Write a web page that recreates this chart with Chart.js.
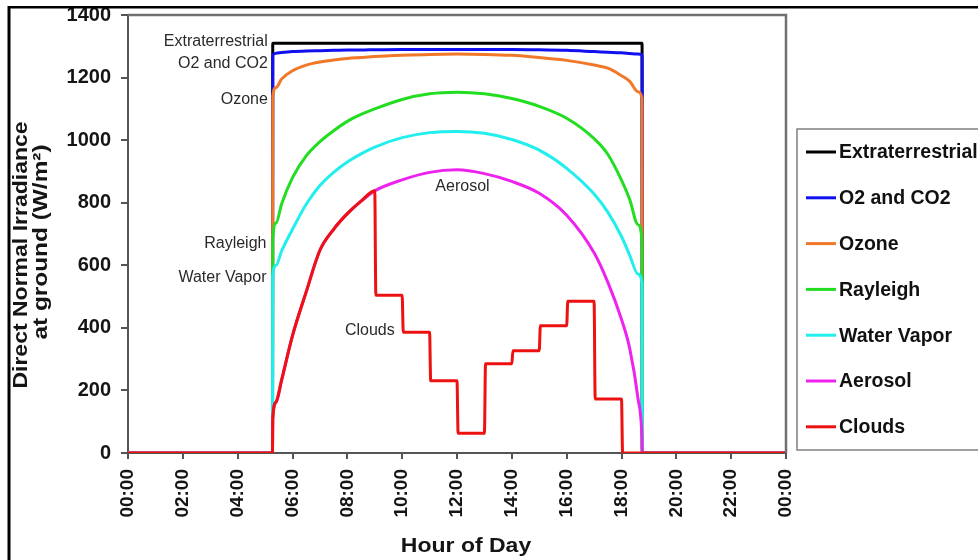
<!DOCTYPE html>
<html>
<head>
<meta charset="utf-8">
<script src="https://cdn.jsdelivr.net/npm/chart.js@4.4.1/dist/chart.umd.min.js"></script>
<style>
  html, body { margin: 0; padding: 0; background: #fff; }
  #wrap { width: 978px; height: 560px; position: relative; }
</style>
</head>
<body>
<div id="wrap"><canvas id="irradiance-chart" width="978" height="560"></canvas></div>
<script>
// Hours of the day (decimal) for the smooth curves
const hours = [0, 5.27, 5.28, 5.4, 5.6, 6, 6.5, 7, 7.5, 8, 8.5, 9, 10, 11, 12, 13, 14, 15, 16, 17, 17.5, 18, 18.3, 18.6, 18.75, 18.76, 24];

// Direct normal irradiance (W/m2) after each attenuation step
const extraterrestrial = [0, 0, 1310, 1310, 1310, 1310, 1310, 1310, 1310, 1310, 1310, 1310, 1310, 1310, 1310, 1310, 1310, 1310, 1310, 1310, 1310, 1310, 1310, 1310, 1310, 0, 0];
const o2co2 = [0, 0, 1272, 1278, 1280, 1283, 1285, 1286, 1287, 1288, 1288, 1289, 1290, 1290, 1290, 1290, 1290, 1289, 1287, 1283, 1281, 1279, 1277, 1275, 1274, 0, 0];
const ozone = [0, 0, 1140, 1168, 1195, 1222, 1240, 1250, 1256, 1261, 1264, 1267, 1271, 1274, 1275, 1274, 1271, 1264, 1255, 1240, 1230, 1206, 1188, 1155, 1135, 0, 0];
const rayleigh = [0, 0, 680, 735, 795, 880, 950, 995, 1030, 1060, 1082, 1100, 1130, 1148, 1153, 1148, 1133, 1108, 1070, 1005, 955, 872, 810, 730, 675, 0, 0];
const waterVapor = [0, 0, 565, 600, 645, 715, 795, 855, 897, 930, 956, 978, 1008, 1024, 1028, 1022, 1002, 968, 910, 828, 770, 692, 632, 572, 540, 0, 0];
const aerosol = [0, 0, 110, 163, 232, 375, 515, 648, 715, 765, 805, 838, 873, 897, 905, 893, 868, 830, 760, 640, 546, 427, 334, 175, 40, 0, 0];

// Clouds: follows the aerosol curve until 9:00, then hourly steps
const cloudHours = [0, 5.27, 5.28, 5.4, 5.6, 6, 6.5, 7, 7.5, 8, 8.5, 9, 9.04, 10, 10.04, 11, 11.04, 12, 12.04, 13, 13.04, 14, 14.04, 15, 15.04, 16, 16.04, 17, 17.04, 18, 18.04, 24];
const clouds = [0, 0, 110, 163, 232, 375, 515, 648, 715, 765, 805, 838, 504, 504, 386, 386, 231, 231, 63, 63, 285, 285, 327, 327, 407, 407, 485, 485, 173, 173, 0, 0];

const seriesNames = ['Extraterrestrial', 'O2 and CO2', 'Ozone', 'Rayleigh', 'Water Vapor', 'Aerosol', 'Clouds'];
const seriesColors = ['#000000', '#1010f0', '#f07828', '#22dd22', '#22eeee', '#ee22ee', '#ee1111'];

// Labels written next to the curves (hour, value)
const curveLabels = [
  { text: 'Extraterrestrial', h: 5.1, v: 1314, align: 'right' },
  { text: 'O2 and CO2', h: 5.1, v: 1245, align: 'right' },
  { text: 'Ozone', h: 5.1, v: 1130, align: 'right' },
  { text: 'Rayleigh', h: 5.05, v: 669, align: 'right' },
  { text: 'Water Vapor', h: 5.05, v: 562, align: 'right' },
  { text: 'Aerosol', h: 12.2, v: 850, align: 'center' },
  { text: 'Clouds', h: 8.82, v: 392, align: 'center' }
];

const toPoints = (xs, ys) => xs.map((h, i) => ({ x: h, y: ys[i] }));
const allValues = [extraterrestrial, o2co2, ozone, rayleigh, waterVapor, aerosol];

const datasets = seriesNames.map((name, i) => ({
  label: name,
  data: i < 6 ? toPoints(hours, allValues[i]) : toPoints(cloudHours, clouds),
  borderColor: seriesColors[i],
  backgroundColor: seriesColors[i],
  borderWidth: 3,
  pointRadius: 0,
  fill: false,
  cubicInterpolationMode: 'monotone',
  order: seriesNames.length - i // later series drawn on top
}));

const fmtHour = v => String(v % 24).padStart(2, '0') + ':00';

// Frame, axis titles, curve labels and the boxed legend
const decorPlugin = {
  id: 'decor',
  beforeDraw(chart) {
    const ctx = chart.ctx;
    ctx.save();
    ctx.fillStyle = '#ffffff';
    ctx.fillRect(0, 0, chart.width, chart.height);
    ctx.restore();
  },
  afterDraw(chart) {
    const { ctx, chartArea: a, scales } = chart;
    const x = scales.x, y = scales.y;
    ctx.save();

    // top and right edges of the plot box
    ctx.strokeStyle = '#707070';
    ctx.lineWidth = 2.5;
    ctx.beginPath();
    ctx.moveTo(a.left, a.top);
    ctx.lineTo(a.right, a.top);
    ctx.lineTo(a.right, a.bottom);
    ctx.stroke();

    // outer black frame (top and left)
    ctx.fillStyle = '#000';
    ctx.fillRect(8, 6, chart.width - 8, 2.5);
    ctx.fillRect(7.5, 6, 3, chart.height - 6);

    // axis titles
    ctx.fillStyle = '#151515';
    ctx.font = 'bold 20px "Liberation Sans", Arial, sans-serif';
    ctx.textAlign = 'center';
    ctx.textBaseline = 'middle';
    ctx.save();
    ctx.translate(466, 546);
    ctx.scale(1.15, 1);
    ctx.fillText('Hour of Day', 0, 0);
    ctx.restore();

    ctx.save();
    ctx.translate(21, 255);
    ctx.rotate(-Math.PI / 2);
    ctx.scale(1.15, 1);
    ctx.fillText('Direct Normal Irradiance', 0, 0);
    ctx.restore();
    ctx.save();
    ctx.translate(41, 242);
    ctx.rotate(-Math.PI / 2);
    ctx.scale(1.22, 1);
    ctx.fillText('at ground (W/m\u00B2)', 0, 0);
    ctx.restore();

    // labels along the curves
    ctx.fillStyle = '#2a2a2a';
    ctx.font = '16px "Liberation Sans", Arial, sans-serif';
    curveLabels.forEach(l => {
      ctx.textAlign = l.align;
      ctx.fillText(l.text, x.getPixelForValue(l.h), y.getPixelForValue(l.v));
    });

    // legend box
    const lx = 797, ly = 129, rowGap = 45.8;
    ctx.strokeStyle = '#808080';
    ctx.lineWidth = 1.5;
    ctx.strokeRect(lx, ly, 200, 321);
    ctx.font = 'bold 19.5px "Liberation Sans", Arial, sans-serif';
    ctx.textAlign = 'left';
    chart.data.datasets.forEach((ds, i) => {
      const ry = 152 + i * rowGap;
      ctx.strokeStyle = ds.borderColor;
      ctx.lineWidth = 3;
      ctx.beginPath();
      ctx.moveTo(806, ry);
      ctx.lineTo(836, ry);
      ctx.stroke();
      ctx.fillStyle = '#111';
      ctx.fillText(ds.label, 839, ry + 1);
    });

    ctx.restore();
  }
};

const ctx = document.getElementById('irradiance-chart').getContext('2d');
new Chart(ctx, {
  type: 'line',
  data: { datasets: datasets },
  options: {
    responsive: false,
    animation: false,
    layout: { padding: { left: 0, top: 15, right: 192, bottom: 0 } },
    plugins: {
      legend: { display: false },
      tooltip: { enabled: false }
    },
    scales: {
      x: {
        type: 'linear',
        min: 0,
        max: 24,
        afterFit: s => { s.height = 107; },
        grid: { drawOnChartArea: false, drawTicks: true, tickLength: 6, color: '#555', lineWidth: 2 },
        border: { display: true, color: '#555', width: 2 },
        ticks: {
          stepSize: 2,
          autoSkip: false,
          minRotation: 90,
          maxRotation: 90,
          padding: 10,
          color: '#151515',
          font: { family: '"Liberation Sans", Arial, sans-serif', size: 19, weight: 'bold' },
          callback: v => fmtHour(v)
        }
      },
      y: {
        min: 0,
        max: 1400,
        afterFit: s => { s.width = 128; },
        grid: { drawOnChartArea: false, drawTicks: true, tickLength: 7, color: '#555', lineWidth: 2 },
        border: { display: true, color: '#555', width: 2 },
        ticks: {
          stepSize: 200,
          padding: 10,
          color: '#151515',
          font: { family: '"Liberation Sans", Arial, sans-serif', size: 20, weight: 'bold', lineHeight: 0.5 },
          callback: v => String(v)
        }
      }
    }
  },
  plugins: [decorPlugin]
});
</script>
</body>
</html>
